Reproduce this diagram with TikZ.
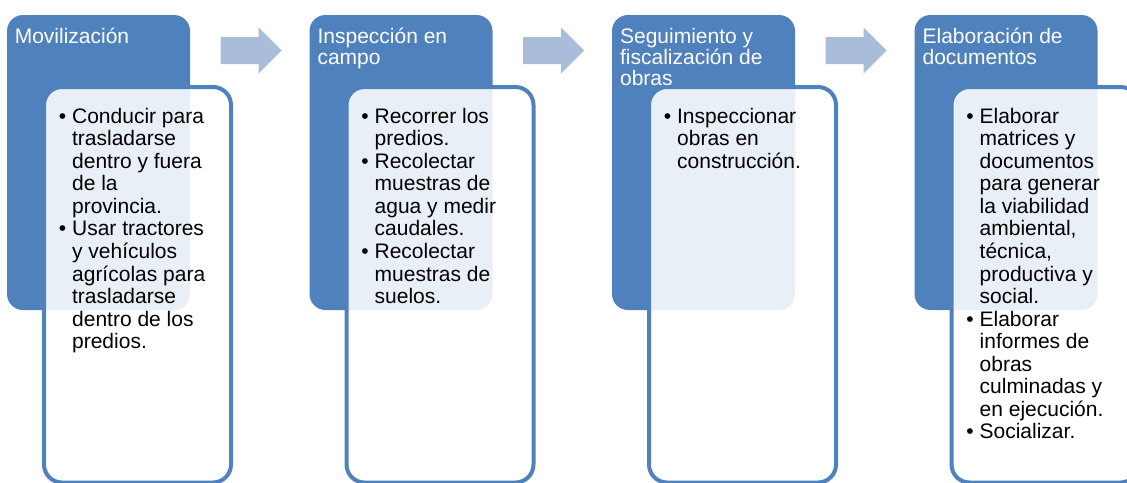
\documentclass[tikz,border=0pt]{standalone}
\usepackage{fontspec}
\setmainfont{Liberation Sans}
\definecolor{azulEtapa}{RGB}{79,129,189}
\definecolor{azulFlecha}{RGB}{169,189,219}
\newcommand{\tst}{\rule{0pt}{13pt}}
\newcommand{\ind}{\hphantom{\textbullet\ }}

\begin{document}
\begin{tikzpicture}[x=0.75pt,y=0.75pt,yscale=-1,xscale=1,
	etapa/.style={fill=azulEtapa, rounded corners=12pt},
	tareasbox/.style={draw=azulEtapa, line width=3pt, fill=white, fill opacity=0.88, rounded corners=13.5pt},
	flecha/.style={fill=azulFlecha},
	titulo/.style={anchor=north west, inner sep=0pt, align=left, text=white, font=\fontsize{15.75}{15.75}\selectfont},
	lista/.style={anchor=north west, inner sep=0pt, align=left, font=\fontsize{15.75}{16.9}\selectfont}]
				\useasboundingbox (0,0) rectangle (1127,482);

				%Shape: Rounded Rect [id:movilizacion]
				\fill [etapa] (7,15) rectangle (190,310);
				% Text Node
				\node [titulo] (movilizacion) at (14.5,25.67) {\tst Movilización};
				%Shape: Rounded Rect [id:tareasMov]
				\path [tareasbox] (44,87) rectangle (231,482.5);
				% Text Node
				\node [lista] (tareas1) at (58.7,105.67) {\tst\textbullet\ Conducir para\\
					\ind trasladarse\\
					\ind dentro y fuera\\
					\ind de la\\
					\ind provincia.\\
					\textbullet\ Usar tractores\\
					\ind y vehículos\\
					\ind agrícolas para\\
					\ind trasladarse\\
					\ind dentro de los\\
					\ind predios.};

				%Shape: Right Arrow [id:flecha1]
				\fill [flecha] (220.5,37) -- (258.5,37) -- (258.5,27.5) -- (281.5,50.5) -- (258.5,73.5) -- (258.5,64) -- (220.5,64) -- cycle ;

				%Shape: Rounded Rect [id:inspeccion]
				\fill [etapa] (309.5,15) rectangle (492.5,310);
				% Text Node
				\node [titulo] (inspeccion) at (317.3,25.67) {\tst Inspección en\\campo};
				%Shape: Rounded Rect [id:tareasInsp]
				\path [tareasbox] (346.5,87) rectangle (533.5,482.5);
				% Text Node
				\node [lista] (tareas2) at (361.2,105.67) {\tst\textbullet\ Recorrer los\\
					\ind predios.\\
					\textbullet\ Recolectar\\
					\ind muestras de\\
					\ind agua y medir\\
					\ind caudales.\\
					\textbullet\ Recolectar\\
					\ind muestras de\\
					\ind suelos.};

				%Shape: Right Arrow [id:flecha2]
				\fill [flecha] (523,37) -- (561,37) -- (561,27.5) -- (584,50.5) -- (561,73.5) -- (561,64) -- (523,64) -- cycle ;

				%Shape: Rounded Rect [id:seguimiento]
				\fill [etapa] (612,15) rectangle (795,310);
				% Text Node
				\node [titulo] (seguimiento) at (619.8,25.67) {\tst Seguimiento y\\fiscalización de\\obras};
				%Shape: Rounded Rect [id:tareasSeg]
				\path [tareasbox] (649,87) rectangle (836,482.5);
				% Text Node
				\node [lista] (tareas3) at (663.7,105.67) {\tst\textbullet\ Inspeccionar\\
					\ind obras en\\
					\ind construcción.};

				%Shape: Right Arrow [id:flecha3]
				\fill [flecha] (825.5,37) -- (863.5,37) -- (863.5,27.5) -- (886.5,50.5) -- (863.5,73.5) -- (863.5,64) -- (825.5,64) -- cycle ;

				%Shape: Rounded Rect [id:elaboracion]
				\fill [etapa] (914.5,15) rectangle (1097.5,310);
				% Text Node
				\node [titulo] (elaboracion) at (922.3,25.67) {\tst Elaboración de\\documentos};
				%Shape: Rounded Rect [id:tareasElab]
				\path [tareasbox] (951.5,87) rectangle (1138.5,482.5);
				% Text Node
				\node [lista] (tareas4) at (966.2,105.67) {\tst\textbullet\ Elaborar\\
					\ind matrices y\\
					\ind documentos\\
					\ind para generar\\
					\ind la viabilidad\\
					\ind ambiental,\\
					\ind técnica,\\
					\ind productiva y\\
					\ind social.\\
					\textbullet\ Elaborar\\
					\ind informes de\\
					\ind obras\\
					\ind culminadas y\\
					\ind en ejecución.\\
					\textbullet\ Socializar.};

		\end{tikzpicture}
\end{document}
